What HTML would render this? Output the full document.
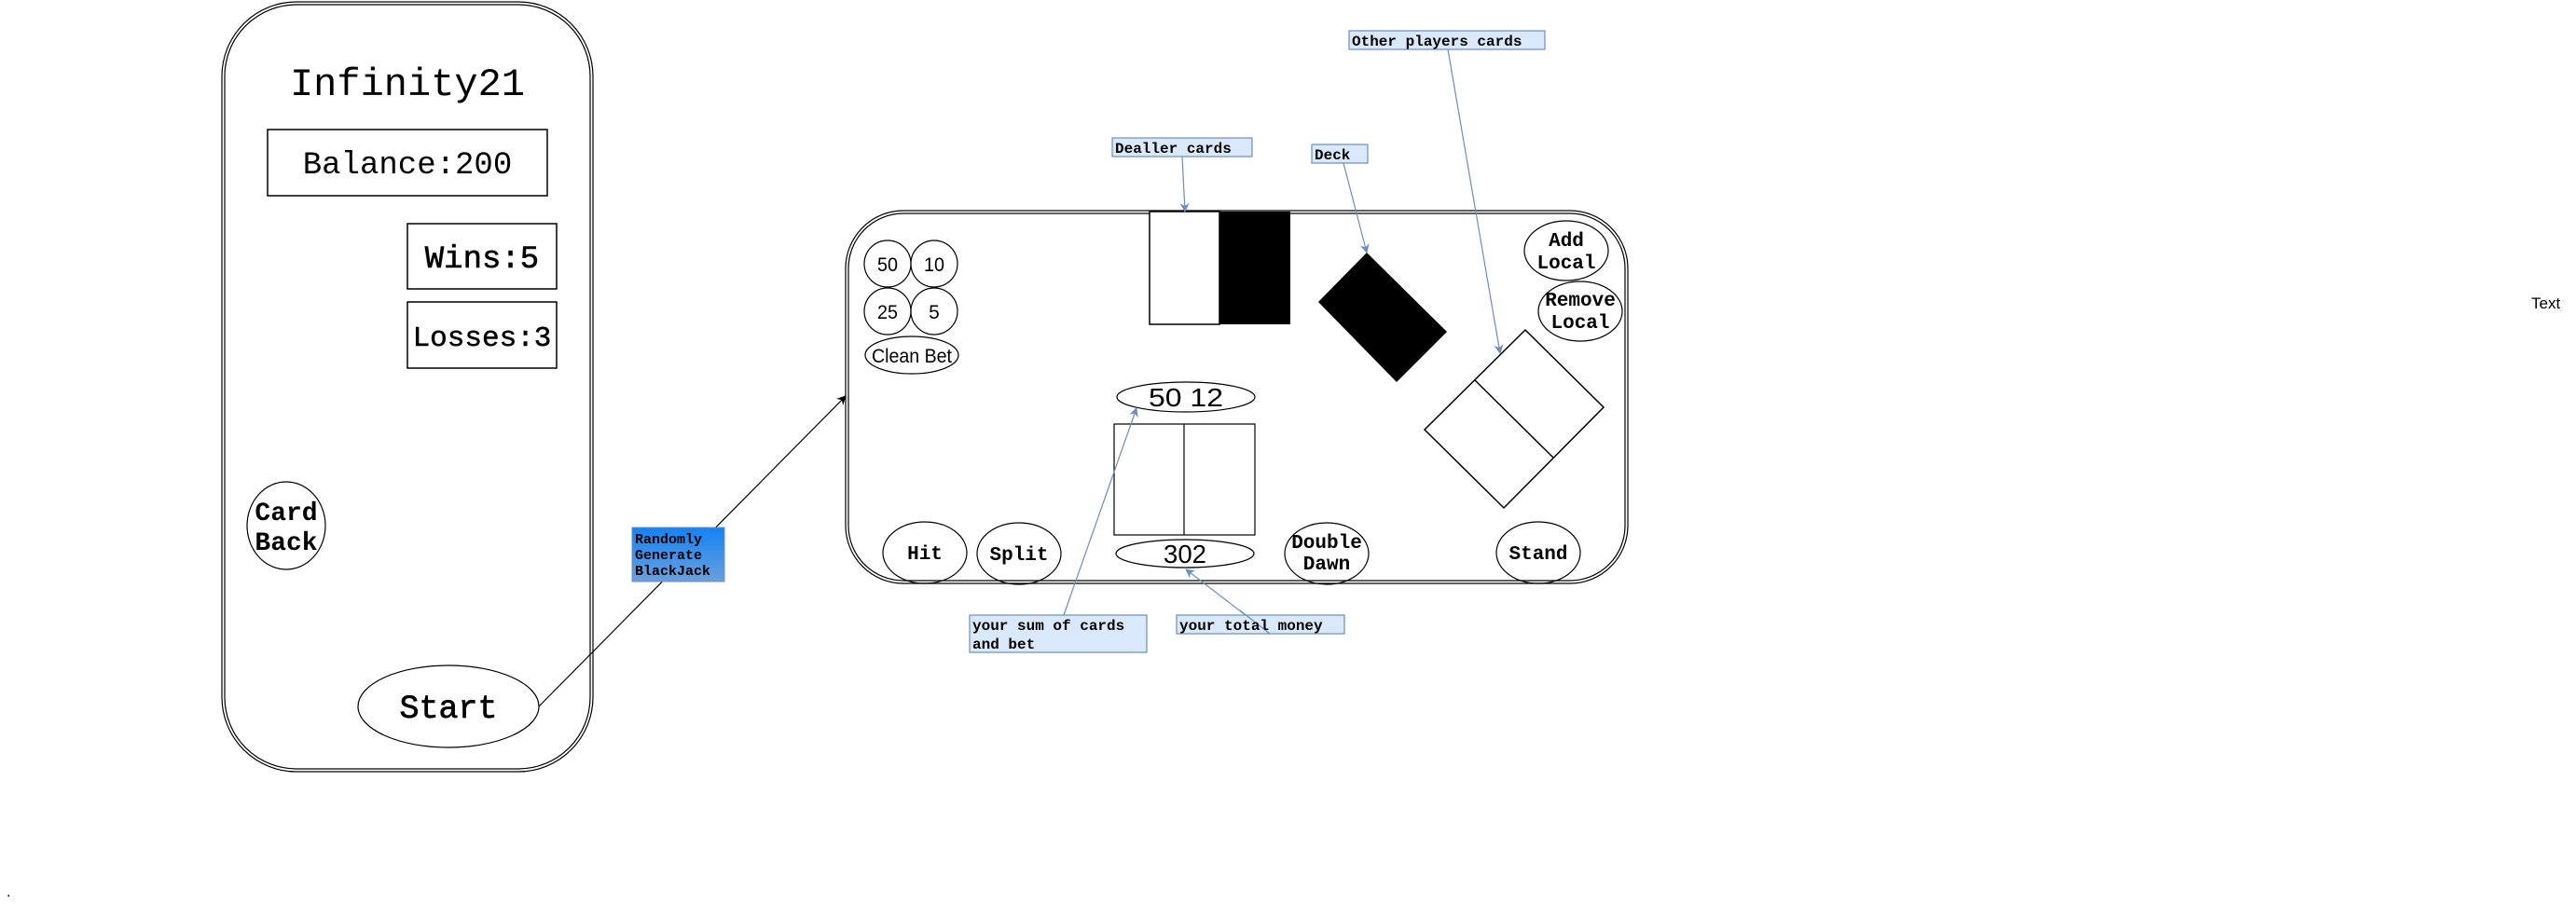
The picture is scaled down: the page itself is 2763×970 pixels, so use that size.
<!DOCTYPE html>
<html><head><meta charset="utf-8"><style>
html,body{margin:0;padding:0;background:#fff;}
svg{display:block;}
.m{font-family:"Liberation Mono",monospace;fill:#000;}
.s{font-family:"Liberation Sans",sans-serif;fill:#000;}
</style></head><body>
<svg width="2763" height="970" viewBox="0 0 2763 970" xmlns="http://www.w3.org/2000/svg">
<defs>
<linearGradient id="g" x1="0" y1="0" x2="0" y2="1"><stop offset="0" stop-color="#1383f5"/><stop offset="1" stop-color="#6a9fdc"/></linearGradient>
<marker id="ab" markerWidth="10" markerHeight="10" refX="9" refY="5" orient="auto" markerUnits="userSpaceOnUse"><path d="M0,0 L10,5 L0,10 L3,5 z" fill="#000"/></marker>
<marker id="abl" markerWidth="10" markerHeight="10" refX="9" refY="5" orient="auto" markerUnits="userSpaceOnUse"><path d="M0,0 L10,5 L0,10 L3,5 z" fill="#6c8ebf"/></marker>
</defs>
<!-- phone -->
<rect x="238" y="2" width="398" height="826" rx="80" fill="none" stroke="#000" stroke-width="1.2"/>
<rect x="241" y="5" width="392" height="820" rx="77" fill="none" stroke="#000" stroke-width="1.2"/>
<text x="437" y="102" class="m" font-size="42" text-anchor="middle">Infinity21</text>
<rect x="287" y="139" width="300" height="71" fill="none" stroke="#000" stroke-width="1.5"/>
<text x="437" y="186" class="m" font-size="34" text-anchor="middle">Balance:200</text>
<rect x="437" y="240" width="160" height="70" fill="none" stroke="#000" stroke-width="1.5"/>
<text x="517" y="287" class="m" font-size="34" text-anchor="middle" stroke="#000" stroke-width="0.6">Wins:5</text>
<rect x="437" y="324" width="160" height="71" fill="none" stroke="#000" stroke-width="1.5"/>
<text x="517" y="371" class="m" font-size="31" text-anchor="middle" stroke="#000" stroke-width="0.5">Losses:3</text>
<ellipse cx="307" cy="564" rx="42" ry="47" fill="none" stroke="#000" stroke-width="1.2"/>
<text x="307" y="558" class="m" font-size="28" font-weight="bold" text-anchor="middle">Card</text>
<text x="307" y="590" class="m" font-size="28" font-weight="bold" text-anchor="middle">Back</text>
<ellipse cx="481" cy="758" rx="97" ry="44" fill="none" stroke="#000" stroke-width="1.2"/>
<text x="481" y="770" class="m" font-size="35" text-anchor="middle" stroke="#000" stroke-width="0.7">Start</text>
<!-- connector -->
<line x1="578" y1="758" x2="907" y2="425" stroke="#000" stroke-width="1.2" marker-end="url(#ab)"/>
<rect x="678" y="566" width="99" height="58" fill="url(#g)" stroke="#6c8ebf"/>
<text class="m" font-size="15" font-weight="bold"><tspan x="681" y="583">Randomly</tspan><tspan x="681" y="600">Generate</tspan><tspan x="681" y="617">BlackJack</tspan></text>
<!-- table -->
<rect x="907" y="226" width="839" height="400" rx="62" fill="none" stroke="#000" stroke-width="1.2"/>
<rect x="910" y="229" width="833" height="394" rx="59" fill="none" stroke="#000" stroke-width="1.2"/>
<g fill="none" stroke="#000" stroke-width="1.2">
<ellipse cx="952" cy="283" rx="25" ry="25"/><ellipse cx="1002" cy="283" rx="25" ry="25"/>
<ellipse cx="952" cy="334" rx="25" ry="25"/><ellipse cx="1002" cy="334" rx="25" ry="25"/>
<ellipse cx="978" cy="381" rx="50" ry="20"/>
</g>
<g class="s" font-size="21" text-anchor="middle">
<text x="952" y="291" textLength="22" lengthAdjust="spacingAndGlyphs">50</text><text x="1002" y="291" textLength="22" lengthAdjust="spacingAndGlyphs">10</text>
<text x="952" y="342" textLength="22" lengthAdjust="spacingAndGlyphs">25</text><text x="1002" y="342">5</text>
<text x="978" y="389" textLength="86" lengthAdjust="spacingAndGlyphs">Clean Bet</text>
</g>
<rect x="1233" y="227" width="75" height="121" fill="#fff" stroke="#000" stroke-width="1.5"/>
<rect x="1308" y="227" width="76" height="121" fill="#000"/>
<polygon points="1466,271 1552,356 1498,410 1414,324" fill="#000"/>
<polygon points="1636,354 1720,437 1613,545 1528,461" fill="none" stroke="#000" stroke-width="1.5"/>
<line x1="1582" y1="408" x2="1666" y2="491" stroke="#000" stroke-width="1.5"/>
<g fill="none" stroke="#000" stroke-width="1.2">
<ellipse cx="1680" cy="269" rx="45" ry="32"/>
<ellipse cx="1695" cy="334" rx="45" ry="32"/>
<ellipse cx="1272" cy="426" rx="74" ry="16"/>
<rect x="1195" y="455" width="151" height="119"/>
<line x1="1270" y1="455" x2="1270" y2="574"/>
<ellipse cx="1271" cy="594" rx="74" ry="15"/>
<ellipse cx="992" cy="593" rx="45" ry="33"/>
<ellipse cx="1093" cy="594" rx="45" ry="33"/>
<ellipse cx="1423" cy="594" rx="45" ry="33"/>
<ellipse cx="1650" cy="593" rx="45" ry="33"/>
</g>
<g class="m" font-size="21" font-weight="bold" text-anchor="middle">
<text x="1680" y="264">Add</text><text x="1680" y="288">Local</text>
<text x="1695" y="328">Remove</text><text x="1695" y="352">Local</text>
<text x="992" y="600">Hit</text><text x="1093" y="601">Split</text>
<text x="1423" y="588">Double</text><text x="1423" y="611">Dawn</text>
<text x="1650" y="600">Stand</text>
</g>
<text x="1272" y="436" class="s" font-size="28" text-anchor="middle" textLength="80" lengthAdjust="spacingAndGlyphs">50 12</text>
<text x="1271" y="604" class="s" font-size="28" text-anchor="middle" textLength="46" lengthAdjust="spacingAndGlyphs">302</text>
<!-- labels -->
<g stroke="#6c8ebf" stroke-width="1.2">
<line x1="1268" y1="168" x2="1271" y2="227" marker-end="url(#abl)"/>
<line x1="1441" y1="175" x2="1466" y2="271" marker-end="url(#abl)"/>
<line x1="1553" y1="53" x2="1609" y2="379" marker-end="url(#abl)"/>
<line x1="1141" y1="660" x2="1219" y2="438" marker-end="url(#abl)"/>
<line x1="1362" y1="680" x2="1272" y2="611" marker-end="url(#abl)"/>
</g>
<g fill="#dae8fc" stroke="#6c8ebf" stroke-width="1.2">
<rect x="1193" y="148" width="150" height="20"/>
<rect x="1407" y="155" width="60" height="20"/>
<rect x="1447" y="33" width="210" height="20"/>
<rect x="1040" y="660" width="190" height="40"/>
<rect x="1262" y="660" width="180" height="20"/>
</g>
<line x1="1362" y1="680" x2="1330" y2="655" stroke="#6c8ebf" stroke-width="1.2"/>
<g class="m" font-size="16" font-weight="bold">
<text x="1196" y="164">Dealler cards</text>
<text x="1410" y="171">Deck</text>
<text x="1450" y="49">Other players cards</text>
<text x="1043" y="676">your sum of cards</text>
<text x="1043" y="696">and bet</text>
<text x="1265" y="676">your total money</text>
</g>
<text x="2715" y="331" font-family="Liberation Sans,sans-serif" font-size="17" fill="#000">Text</text>
<text x="7" y="962" font-family="Liberation Sans,sans-serif" font-size="16" fill="#000">.</text>
</svg>
</body></html>
